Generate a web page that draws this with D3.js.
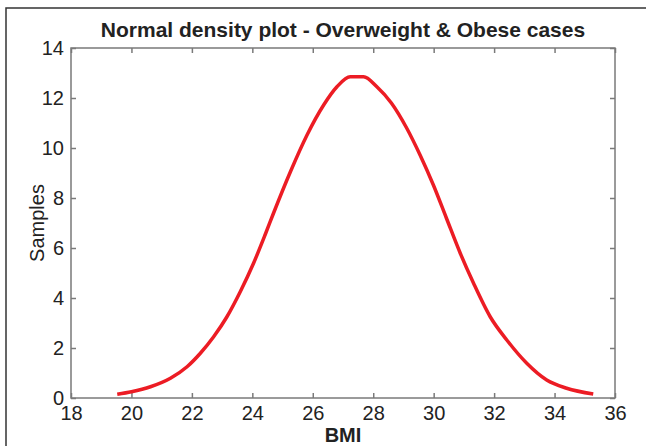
<!DOCTYPE html>
<html>
<head>
<meta charset="utf-8">
<script src="https://cdn.jsdelivr.net/npm/d3@7"></script>
<style>
  html, body { margin: 0; padding: 0; background: #fff; }
  svg { display: block; font-family: 'Liberation Sans', Arial, sans-serif; }
</style>
</head>
<body>
<div id="chart"></div>
<script>
// values
const bmi = [19.53, 20.0, 20.63, 21.29, 21.84, 22.28, 22.72, 23.16, 23.6, 24.04, 24.43, 24.7, 25.26, 25.81, 26.36, 26.8,
  27.24, 27.68, 28.12, 28.6, 29.11, 29.55, 29.99, 30.42, 30.88, 31.32, 31.87, 32.42, 33.08, 33.74, 34.4, 35.28];
const samples = [0.15, 0.25, 0.45, 0.79, 1.25, 1.79, 2.45, 3.25, 4.25, 5.39, 6.55, 7.39, 9.05, 10.52, 11.72, 12.45,
  12.85, 12.85, 12.45, 11.8, 10.79, 9.72, 8.52, 7.2, 5.79, 4.59, 3.25, 2.32, 1.39, 0.72, 0.39, 0.16];
const xTicks = [18, 20, 22, 24, 26, 28, 30, 32, 34, 36];
const yTicks = [0, 2, 4, 6, 8, 10, 12, 14];
const title = 'Normal density plot - Overweight & Obese cases';

const width = 646, height = 446;
const margin = { top: 48, right: 31, bottom: 48, left: 71 };
const w = width - margin.left - margin.right;
const h = height - margin.top - margin.bottom;

const svg = d3.select('#chart').append('svg')
  .attr('width', width)
  .attr('height', height);

// outer figure frame (top & left edges only visible)
svg.append('path')
  .attr('d', `M6,${height} L6,8 L${width},8`)
  .attr('fill', 'none')
  .attr('stroke', '#333')
  .attr('stroke-width', 1.5);

const g = svg.append('g').attr('transform', `translate(${margin.left},${margin.top})`);

const x = d3.scaleLinear().domain([18, 36]).range([0, w]);
const y = d3.scaleLinear().domain([0, 14]).range([h, 0]);

const axisColor = '#7a7a7a';
const tickLen = 5;

// bottom axis with labels
const xAxis = g.append('g')
  .attr('transform', `translate(0,${h})`)
  .call(d3.axisBottom(x).tickValues(xTicks).tickSizeInner(-tickLen).tickSizeOuter(0).tickPadding(8));
xAxis.selectAll('text').attr('font-size', 20).attr('fill', '#222');

// left axis with labels
const yAxis = g.append('g')
  .call(d3.axisLeft(y).tickValues(yTicks).tickSizeInner(-tickLen).tickSizeOuter(0).tickPadding(7));
yAxis.selectAll('text').attr('font-size', 20).attr('fill', '#222');

// top and right mirror ticks
g.append('g')
  .call(d3.axisTop(x).tickValues(xTicks).tickSizeInner(-tickLen).tickSizeOuter(0).tickFormat(''));
g.append('g')
  .attr('transform', `translate(${w},0)`)
  .call(d3.axisRight(y).tickValues(yTicks).tickSizeInner(-tickLen).tickSizeOuter(0).tickFormat(''));

g.selectAll('.domain').remove();
g.selectAll('.tick line').attr('stroke', axisColor).attr('stroke-width', 1.5);

// plot box
g.append('rect')
  .attr('width', w)
  .attr('height', h)
  .attr('fill', 'none')
  .attr('stroke', axisColor)
  .attr('stroke-width', 1.5);

// density curve
const line = d3.line()
  .x((d, i) => x(bmi[i]))
  .y(d => y(d))
  .curve(d3.curveMonotoneX);

g.append('path')
  .datum(samples)
  .attr('fill', 'none')
  .attr('stroke', '#ec1c24')
  .attr('stroke-width', 3.5)
  .attr('stroke-linejoin', 'round')
  .attr('stroke-linecap', 'butt')
  .attr('d', line);

// title
svg.append('text')
  .attr('x', margin.left + w / 2)
  .attr('y', 37)
  .attr('text-anchor', 'middle')
  .attr('font-size', 21)
  .attr('font-weight', 'bold')
  .attr('fill', '#222')
  .text(title);

// axis labels
svg.append('text')
  .attr('x', margin.left + w / 2)
  .attr('y', 442)
  .attr('text-anchor', 'middle')
  .attr('font-size', 20)
  .attr('font-weight', 'bold')
  .attr('fill', '#222')
  .text('BMI');

svg.append('text')
  .attr('transform', `translate(44,${margin.top + h / 2}) rotate(-90)`)
  .attr('text-anchor', 'middle')
  .attr('font-size', 20)
  .attr('fill', '#222')
  .text('Samples');
</script>
</body>
</html>
